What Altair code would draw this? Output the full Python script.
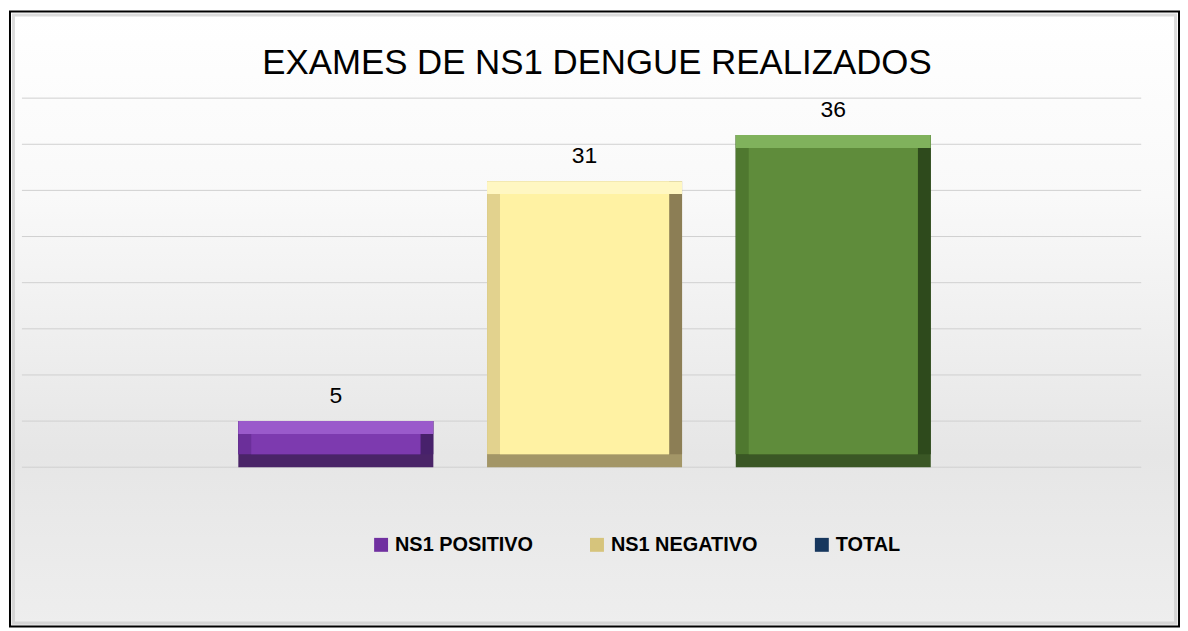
import altair as alt
import pandas as pd

# ---- data ----
categories = ["NS1 POSITIVO", "NS1 NEGATIVO", "TOTAL"]
values = [5, 31, 36]
grid_values = [0, 5, 10, 15, 20, 25, 30, 35, 40]
title_text = "EXAMES DE NS1 DENGUE REALIZADOS"

# ---- styles ----
face_colors = ["#7d3aaf", "#fff2a3", "#5f8c3b"]
top_colors = ["#9a5acb", "#fff7c2", "#80b25c"]
left_colors = ["#6b2f9a", "#e2d28e", "#4f782f"]
right_colors = ["#47216b", "#8c7e55", "#2e4a1c"]
bottom_colors = ["#4a2468", "#a39667", "#3a5725"]
legend_colors = ["#7030a0", "#d6c47c", "#17375e"]

df = pd.DataFrame({
    "cat": categories,
    "v": values,
    "face": face_colors,
    "top": top_colors,
    "left": left_colors,
    "right": right_colors,
    "bottom": bottom_colors,
})
grid_df = pd.DataFrame({"g": grid_values})

W, H = 1125, 371
BEV = 13
BAND = 196.0

x_enc = alt.X("cat:N", sort=categories,
              scale=alt.Scale(domain=categories, paddingInner=0.216, paddingOuter=0.858,
                              align=0.507),
              axis=None)
y_scale = alt.Scale(domain=[0, 40], nice=False, zero=True)
y_enc = alt.Y("v:Q", scale=y_scale, axis=None)
y2_zero = alt.Y2(datum=0)

# background frame
frame = alt.Chart(alt.Data(values=[{"k": 1}])).mark_rect(
    fill=alt.LinearGradient(
        gradient="linear", x1=0, x2=0, y1=0, y2=1,
        stops=[
            alt.GradientStop(color="#ffffff", offset=0),
            alt.GradientStop(color="#f9f9f9", offset=0.3),
            alt.GradientStop(color="#e6e6e6", offset=0.72),
            alt.GradientStop(color="#eeeeee", offset=1),
        ],
    ),
    stroke="#000000", strokeWidth=2,
).encode(x=alt.value(-12), x2=alt.value(1163), y=alt.value(-87), y2=alt.value(531))

inner = alt.Chart(alt.Data(values=[{"k": 1}])).mark_rect(
    fill="transparent", stroke="#c4c4c4", strokeWidth=3, strokeOpacity=0.6
).encode(x=alt.value(-8.5), x2=alt.value(1159.5), y=alt.value(-83.5), y2=alt.value(527.5))

grid = alt.Chart(grid_df).mark_rule(color="#d0d0d0", strokeWidth=1).encode(
    y=alt.Y("g:Q", scale=y_scale, axis=None),
    x=alt.value(0), x2=alt.value(W),
)

base = alt.Chart(df)

l1 = base.mark_bar().encode(
    x=x_enc, y=y_enc, y2=y2_zero, fill=alt.Fill("bottom:N", scale=None))
l2 = base.mark_bar(y2Offset=-BEV).encode(
    x=x_enc, y=y_enc, y2=y2_zero, fill=alt.Fill("right:N", scale=None))
l3 = base.mark_bar(width=alt.RelativeBandSize((BAND - BEV) / BAND), xOffset=-BEV / 2,
                   y2Offset=-BEV).encode(
    x=x_enc, y=y_enc, y2=y2_zero, fill=alt.Fill("left:N", scale=None))
l4 = base.mark_bar(y2Offset=BEV).encode(
    x=x_enc, y=y_enc, y2=alt.Y2("v:Q"), fill=alt.Fill("top:N", scale=None))
l5 = base.mark_bar(width=alt.RelativeBandSize((BAND - 2 * BEV) / BAND),
                   yOffset=BEV, y2Offset=-BEV).encode(
    x=x_enc, y=y_enc, y2=y2_zero, fill=alt.Fill("face:N", scale=None))

legend_layer = base.mark_square(opacity=0, size=1).encode(
    x=x_enc, y=y_enc,
    color=alt.Color("cat:N", sort=categories,
                    scale=alt.Scale(domain=categories, range=legend_colors),
                    legend=alt.Legend(
                        title=None, orient="none", direction="horizontal",
                        legendX=351, legendY=439, padding=0,
                        symbolType="square", symbolSize=196, symbolStrokeWidth=0,
                        symbolOpacity=1,
                        labelFont="Liberation Sans", labelFontWeight="bold",
                        labelFontSize=20, labelColor="#000000",
                        columnPadding=54, labelOffset=4,
                    )),
)

labels = base.mark_text(dy=-18, baseline="alphabetic", fontSize=23,
                        font="Liberation Sans", color="#000000").encode(
    x=x_enc, y=y_enc, text=alt.Text("v:Q"))

title = alt.Chart(alt.Data(values=[{"t": title_text}])).mark_text(
    font="Liberation Sans", fontSize=35, color="#000000",
    baseline="alphabetic", align="center",
).encode(x=alt.value(578), y=alt.value(-24), text="t:N")

chart = alt.layer(frame, inner, grid, l1, l2, l3, l4, l5, legend_layer, labels, title).properties(
    width=W, height=H,
    autosize=alt.AutoSizeParams(type="none"),
    padding={"left": 14, "top": 89, "right": 39, "bottom": 161},
    background="#ffffff",
).configure_view(stroke=None)

chart.save("out.html", embed_options={"renderer": "svg", "actions": False})
